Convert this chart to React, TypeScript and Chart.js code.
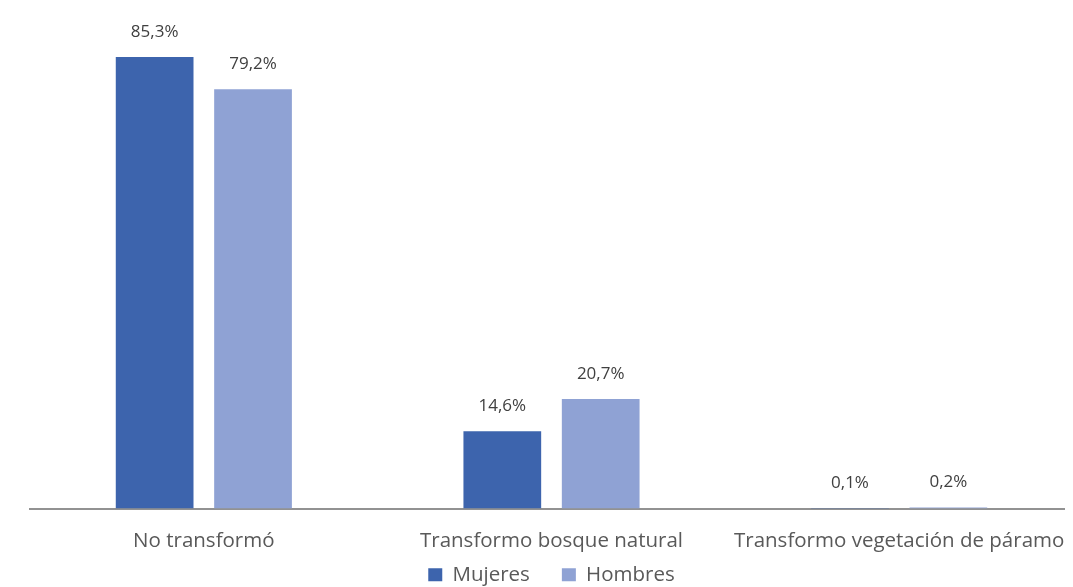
import React, { useEffect, useRef } from "react";
import { Chart, registerables } from "chart.js";

Chart.register(...registerables);

const categories = ["No transformó", "Transformo bosque natural", "Transformo vegetación de páramo"];
const seriesNames = ["Mujeres", "Hombres"];
const mujeres = [85.3, 14.6, 0.1];
const hombres = [79.2, 20.7, 0.2];
const seriesColors = ["#3D64AD", "#8FA2D4"];

const FONT = "'Open Sans', sans-serif";

const dataLabelPlugin = {
  id: "dataLabels",
  afterDatasetsDraw(chart: any) {
    const ctx = chart.ctx;
    ctx.save();
    ctx.font = `17px ${FONT}`;
    ctx.fillStyle = "#404040";
    ctx.textAlign = "center";
    ctx.textBaseline = "middle";
    chart.data.datasets.forEach((ds: any, di: number) => {
      const meta = chart.getDatasetMeta(di);
      meta.data.forEach((el: any, i: number) => {
        const v = ds.data[i] as number;
        const txt = v.toFixed(1).replace(".", ",") + "%";
        ctx.fillText(txt, el.x, el.y - 25);
      });
    });
    ctx.restore();
  },
};

export default function App() {
  const ref = useRef<HTMLCanvasElement | null>(null);
  useEffect(() => {
    if (!ref.current) return;
    const chart = new Chart(ref.current, {
      type: "bar",
      data: {
        labels: categories,
        datasets: [
          {
            label: seriesNames[0],
            data: mujeres,
            backgroundColor: seriesColors[0],
            categoryPercentage: 0.566,
            barPercentage: 0.79,
          },
          {
            label: seriesNames[1],
            data: hombres,
            backgroundColor: seriesColors[1],
            categoryPercentage: 0.566,
            barPercentage: 0.79,
          },
        ],
      },
      options: {
        responsive: false,
        animation: false,
        layout: { padding: { left: 22, right: 0, top: 24, bottom: 0 } },
        scales: {
          x: {
            grid: { display: false, drawTicks: false },
            border: { display: true, color: "#929292", width: 2 },
            ticks: {
              mirror: true,
              padding: -45,
              color: "#595959",
              font: { family: FONT, size: 20.5 },
              maxRotation: 0,
              autoSkip: false,
            },
            afterFit: (scale: any) => {
              scale.height = 24;
              scale.paddingLeft = 0;
              scale.paddingRight = 0;
            },
          },
          y: {
            display: false,
            min: 0,
            max: 90,
          },
        },
        plugins: {
          legend: {
            position: "bottom",
            labels: {
              boxWidth: 14,
              boxHeight: 13,
              padding: 32,
              color: "#595959",
              font: { family: FONT, size: 20.5 },
            },
          },
          tooltip: { enabled: false },
        },
      },
      plugins: [dataLabelPlugin],
    });
    return () => chart.destroy();
  }, []);

  return (
    <div
      style={{
        marginLeft: -1,
        marginTop: -1,
        width: 1066,
        height: 580,
        overflow: "hidden",
        borderLeft: "1px solid #d9d9d9",
        borderTop: "1px solid #d9d9d9",
        boxSizing: "border-box",
        background: "#fff",
      }}
    >
      <canvas ref={ref} width={1065} height={587} style={{ display: "block" }} />
    </div>
  );
}
